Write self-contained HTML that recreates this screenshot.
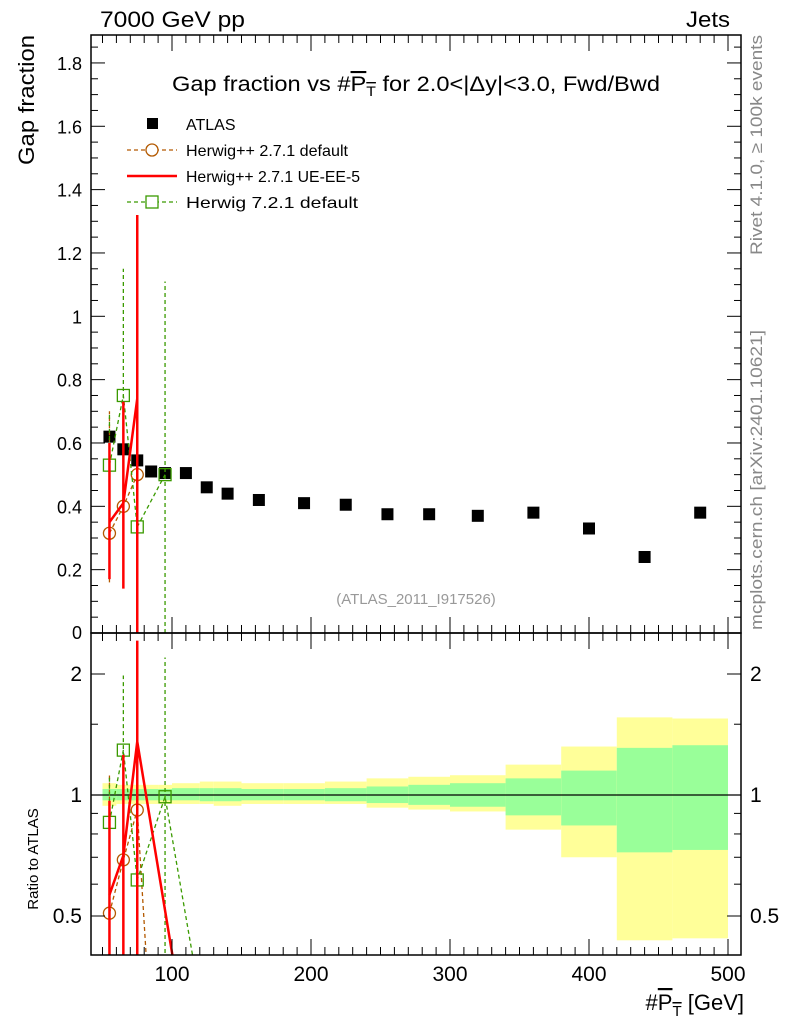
<!DOCTYPE html>
<html><head><meta charset="utf-8"><style>
body{margin:0;background:#fff;}
svg{display:block;font-family:"Liberation Sans",sans-serif;}
</style></head><body>
<svg id="c" width="786" height="1024" xmlns="http://www.w3.org/2000/svg">
<defs>
<clipPath id="cm"><rect x="91" y="35" width="650" height="598"/></clipPath>
<clipPath id="cr"><rect x="91" y="633" width="650" height="322"/></clipPath>
</defs>
<g id="bands" clip-path="url(#cr)"></g>
<g id="main" clip-path="url(#cm)"></g>
<g id="ratio" clip-path="url(#cr)"></g>
<g id="axes"></g>
<text x="100" y="27" font-size="22" textLength="145" lengthAdjust="spacingAndGlyphs">7000 GeV pp</text>
<text x="686" y="27" font-size="22" textLength="44" lengthAdjust="spacingAndGlyphs">Jets</text>
<text x="172" y="91" font-size="21" textLength="488" lengthAdjust="spacingAndGlyphs">Gap fraction vs #<tspan text-decoration="overline">P<tspan font-size="14" dy="5">T</tspan></tspan><tspan dy="-5"> for 2.0&lt;|Δy|&lt;3.0, Fwd/Bwd</tspan></text>
<text transform="translate(34,165) rotate(-90)" font-size="22" textLength="130" lengthAdjust="spacingAndGlyphs" x="0" y="0">Gap fraction</text>
<text transform="translate(38,859) rotate(-90)" font-size="15" text-anchor="middle">Ratio to ATLAS</text>
<text x="744" y="1010" font-size="22" text-anchor="end">#<tspan text-decoration="overline">P<tspan font-size="15" dy="6">T</tspan></tspan><tspan dy="-6"> [GeV]</tspan></text>
<text transform="translate(762,255) rotate(-90)" font-size="17" fill="#888" textLength="220" lengthAdjust="spacingAndGlyphs">Rivet 4.1.0, ≥ 100k events</text>
<text transform="translate(762,630) rotate(-90)" font-size="17" fill="#888" textLength="300" lengthAdjust="spacingAndGlyphs">mcplots.cern.ch [arXiv:2401.10621]</text>
<text x="416" y="604" font-size="15" fill="#999" text-anchor="middle">(ATLAS_2011_I917526)</text>
<g>
<rect x="147" y="118" width="11" height="11" fill="#000"/>
<text x="186" y="130" font-size="16">ATLAS</text>
<line x1="127" y1="150" x2="177" y2="150" stroke="#b35900" stroke-dasharray="4,3" stroke-width="1.2"/>
<circle cx="152" cy="150" r="6" fill="#fff" stroke="#b35900" stroke-width="1.3"/>
<text x="186" y="156" font-size="16" textLength="162" lengthAdjust="spacingAndGlyphs">Herwig++ 2.7.1 default</text>
<line x1="127" y1="176" x2="177" y2="176" stroke="#f00" stroke-width="2.5"/>
<text x="186" y="182" font-size="16" textLength="174" lengthAdjust="spacingAndGlyphs">Herwig++ 2.7.1 UE-EE-5</text>
<line x1="127" y1="202" x2="177" y2="202" stroke="#3a9a00" stroke-dasharray="4,3" stroke-width="1.2"/>
<rect x="146" y="196" width="12" height="12" fill="#fff" stroke="#3a9a00" stroke-width="1.3"/>
<text x="186" y="208" font-size="16" textLength="172" lengthAdjust="spacingAndGlyphs">Herwig 7.2.1 default</text>
</g>
</svg>
<script>
const atlasX=[55,65,75,85,95,110,125,140,162.5,195,225,255,285,320,360,400,440,480];
const atlasY=[0.62,0.58,0.545,0.51,0.505,0.505,0.46,0.44,0.42,0.41,0.405,0.375,0.375,0.37,0.38,0.33,0.24,0.38];
const binEdges=[50,60,70,80,90,100,120,130,150,180,210,240,270,300,340,380,420,460,500];
const yelUp=[1.07,1.06,1.06,1.06,1.06,1.07,1.08,1.08,1.07,1.07,1.08,1.10,1.11,1.12,1.19,1.32,1.56,1.55];
const yelDn=[0.94,0.95,0.95,0.95,0.95,0.95,0.95,0.94,0.95,0.95,0.95,0.93,0.92,0.91,0.82,0.70,0.435,0.44];
const grnUp=[1.035,1.035,1.035,1.035,1.035,1.04,1.04,1.04,1.035,1.035,1.04,1.05,1.06,1.07,1.10,1.15,1.31,1.33];
const grnDn=[0.97,0.97,0.97,0.97,0.97,0.97,0.965,0.965,0.97,0.97,0.965,0.955,0.945,0.935,0.89,0.84,0.72,0.73];
const hppX=[55,65,75,85];
const hppY=[0.315,0.40,0.50,0];
const hppLo=[0.16,0.15,0.05,0];
const hppHi=[0.70,0.72,0.94,0];
const ueX=[55,65,75,110];
const ueY=[0.35,0.41,0.74,0];
const ueLo=[0.17,0.14,-0.05,0];
const ueHi=[0.60,0.73,1.32,0];
const h7X=[55,65,75,95,125];
const h7Y=[0.53,0.75,0.335,0.50,0];
const h7Lo=[0.30,0.30,0.07,0.0,0];
const h7Hi=[0.69,1.15,0.72,1.11,0];
const mainTicks=[0.2,0.4,0.6,0.8,1,1.2,1.4,1.6,1.8];
const xTicks=[100,200,300,400,500];
const ratioTicks=[0.5,1,2];

const NS="http://www.w3.org/2000/svg";
const X=v=>172+(v-100)*1.39;
const Y=v=>633-v*316.7;
const R=r=>795-Math.log2(Math.max(r,0.25))*121;
function el(t,a,p){const e=document.createElementNS(NS,t);for(const k in a)e.setAttribute(k,a[k]);document.getElementById(p).appendChild(e);return e;}

binEdges.slice(0,-1).forEach((b,i)=>{
 const x1=X(b),x2=X(binEdges[i+1]);
 const y=el('rect',{x:x1,y:R(yelUp[i]),width:x2-x1,height:R(yelDn[i])-R(yelUp[i]),fill:'#ffff99'},'bands');
 
 
 const g=el('rect',{x:x1,y:R(grnUp[i]),width:x2-x1,height:R(grnDn[i])-R(grnUp[i]),fill:'#99ff99'},'bands');
 
 
});
el('line',{x1:91,x2:741,y1:795,y2:795,stroke:'#000','stroke-width':1.2},'bands');

atlasX.forEach((x,i)=>{
 const r=el('rect',{x:X(x)-6,y:Y(atlasY[i])-6,width:12,height:12,fill:'#000'},'main');
 
 
});

function series(xs,ys,lo,hi,col,dash,w,marker,name){
 const nz=xs.map((x,i)=>i).filter(i=>ys[i]>0);
 let pts=nz.map(i=>X(xs[i])+','+Y(ys[i])).join(' ');
 const pl=el('polyline',{points:pts,fill:'none',stroke:col,'stroke-width':w,'stroke-dasharray':dash},'main');
 
 
 let rp=xs.map((x,i)=>X(x)+','+R(ys[i]/atlasY[atlasX.indexOf(x)]||0)).join(' ');
 const rl=el('polyline',{points:rp,fill:'none',stroke:col,'stroke-width':w,'stroke-dasharray':dash},'ratio');
 
 
 xs.forEach((x,i)=>{
  if(ys[i]<=0)return;
  const a=atlasY[atlasX.indexOf(x)];
  const e=el('line',{x1:X(x),x2:X(x),y1:Y(lo[i]),y2:Y(hi[i]),stroke:col,'stroke-width':w,'stroke-dasharray':dash},'main');
  
  
  const e2=el('line',{x1:X(x),x2:X(x),y1:R(lo[i]/a),y2:R(hi[i]/a),stroke:col,'stroke-width':w,'stroke-dasharray':dash},'ratio');
  
  
  [[Y(ys[i]),'main'],[R(ys[i]/a),'ratio']].forEach(([yy,p])=>{
   let m;
   if(marker==='c')m=el('circle',{cx:X(x),cy:yy,r:6,fill:'none',stroke:col,'stroke-width':1.3},p);
   else if(marker==='s')m=el('rect',{x:X(x)-6,y:yy-6,width:12,height:12,fill:'none',stroke:col,'stroke-width':1.3},p);
   if(m){
   }
  });
 });
}
series(hppX,hppY,hppLo,hppHi,'#b35900','4,3',1.3,'c','herwigpp-default');
series(h7X,h7Y,h7Lo,h7Hi,'#3a9a00','4,3',1.3,'s','herwig7-default');
series(ueX,ueY,ueLo,ueHi,'#f00','',2.5,'','herwigpp-ueee5');

const A='axes';
el('rect',{x:91,y:35,width:650,height:598,fill:'none',stroke:'#000','stroke-width':1.5},A);
el('rect',{x:91,y:633,width:650,height:322,fill:'none',stroke:'#000','stroke-width':1.5},A);
for(let v=0.05;v<1.89;v+=0.05){const big=Math.abs(v*5-Math.round(v*5))<0.01;const L=big?14:7;
 el('line',{x1:91,x2:91+L,y1:Y(v),y2:Y(v),stroke:'#000'},A);el('line',{x1:741,x2:741-L,y1:Y(v),y2:Y(v),stroke:'#000'},A);}
mainTicks.forEach(v=>{const t=el('text',{x:82,y:Y(v)+7,'font-size':18,'text-anchor':'end'},A);t.textContent=String(v);
 
 });
{const t=el('text',{x:82,y:639,'font-size':18,'text-anchor':'end'},A);t.textContent='0';}
for(let v=50;v<=500;v+=10){const big=v%100===0;const L=big?16:8;
 [[633,-1],[955,-1],[633,1],[35,1]].forEach(([y,s])=>el('line',{x1:X(v),x2:X(v),y1:y,y2:y+s*L,stroke:'#000'},A));}
xTicks.forEach(v=>{const t=el('text',{x:X(v),y:981,'font-size':21,'text-anchor':'middle'},A);t.textContent=String(v);
 
 });
[0.5,0.6,0.7,0.8,0.9,1,1.5,2].forEach(v=>{const L=[0.5,1,2].includes(v)?14:7;
 el('line',{x1:91,x2:91+L,y1:R(v),y2:R(v),stroke:'#000'},A);el('line',{x1:741,x2:741-L,y1:R(v),y2:R(v),stroke:'#000'},A);});
ratioTicks.forEach(v=>{[[82,'end'],[750,'start']].forEach(([x,an])=>{const t=el('text',{x:x,y:R(v)+7,'font-size':21,'text-anchor':an},A);t.textContent=String(v);
 
 });});
</script>
</body></html>
